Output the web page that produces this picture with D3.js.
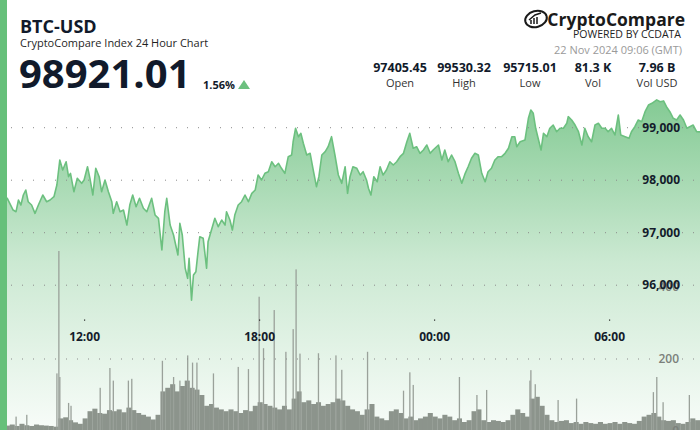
<!DOCTYPE html>
<html>
<head>
<meta charset="utf-8">
<style>
body{margin:0;background:#fff;}
svg{display:block;font-family:"Open Sans",sans-serif;}
.grid line{stroke:#8a8a8a;stroke-dasharray:1,10;}
</style>
</head>
<body>
<svg width="700" height="430"></svg>
<script src="https://cdn.jsdelivr.net/npm/d3@7"></script>
<script>

// price points: [minutes since 21 Nov 09:06 GMT, price]
var pricePoints = [
[0,97405],[15,97655],[27,97432],[33,97400],[38,97623],[43,97527],[48,97718],[53,97813],[58,97590],[65,97527],
[72,97369],[79,97527],[88,97718],[96,97590],[103,97623],[111,97686],[117,97908],[123,98385],[129,98194],[136,98352],
[141,98067],[145,98131],[152,97781],[159,98036],[168,97941],[173,98004],[180,98257],[185,98036],[191,97718],[197,98227],
[204,98067],[209,97781],[216,98004],[223,97781],[230,97590],[233,97369],[240,97590],[247,97400],[254,97432],[261,97146],
[267,97527],[273,97718],[280,97495],[287,97655],[295,97465],[302,97400],[312,97655],[319,97337],[326,97274],[333,96670],
[339,97400],[343,97655],[350,97146],[357,96956],[360,96828],[366,96575],[370,97179],[375,96956],[381,96322],[386,96131],
[389,96512],[394,95715],[398,96194],[403,96257],[407,96607],[411,96924],[418,96893],[425,96322],[428,96828],[435,97051],
[442,97274],[449,97114],[456,97242],[463,97146],[466,97400],[473,97242],[478,97051],[483,97337],[490,97527],[497,97590],
[504,97718],[511,97590],[518,97750],[525,97813],[531,98099],[538,98004],[545,98131],[552,98162],[559,98352],[566,98257],
[573,98322],[579,98227],[586,98131],[593,98448],[600,98480],[603,98733],[608,98989],[614,98829],[619,98893],[624,98703],
[631,98480],[638,98512],[645,98162],[651,97876],[656,98067],[662,98480],[669,98543],[675,98638],[682,98829],[689,98480],
[696,98099],[703,97941],[710,98257],[715,97750],[720,98067],[726,98257],[734,98227],[741,98099],[747,98162],[754,98004],
[758,97846],[763,97718],[769,98067],[776,97971],[782,98257],[788,98099],[795,98194],[802,98352],[809,98289],[816,98352],
[823,98448],[830,98512],[837,98733],[843,98893],[850,98608],[857,98638],[864,98512],[871,98575],[878,98670],[885,98512],
[891,98575],[902,98670],[909,98385],[915,98575],[922,98352],[929,98480],[936,98352],[943,98131],[950,97941],[957,98131],
[963,98257],[970,98417],[977,98512],[984,98480],[991,98131],[998,97971],[1004,98162],[1011,98227],[1018,98385],[1025,98448],
[1032,98448],[1039,98512],[1046,98608],[1053,98829],[1059,98829],[1063,98638],[1070,98733],[1080,98766],[1087,99179],[1092,99337],
[1097,99274],[1102,98989],[1107,98798],[1113,98575],[1118,98893],[1125,98829],[1131,98989],[1138,99051],[1145,98924],[1152,98989],
[1159,98989],[1166,99084],[1169,99210],[1176,99147],[1183,99051],[1190,98924],[1197,98670],[1203,98989],[1210,98829],[1217,98733],
[1224,99051],[1231,99084],[1238,98989],[1245,98989],[1251,98924],[1258,98989],[1265,98861],[1272,99242],[1277,98861],[1286,98829],
[1294,98798],[1299,98924],[1306,99019],[1313,99147],[1320,99114],[1327,99305],[1334,99432],[1341,99465],[1351,99530],[1358,99495],
[1365,99510],[1371,99400],[1378,99305],[1385,99179],[1392,99147],[1399,99242],[1406,99147],[1413,98989],[1419,99019],[1426,99051],
[1433,98924],[1440,98921]
];

// typical volume per 10 minute slot (BTC)
var volBase = [
15,15,18,14,20,16,14,18,16,15,14,12,35,38,30,24,20,35,55,62,
50,48,58,55,60,52,65,58,50,45,40,32,45,110,120,130,110,125,140,120,
115,100,70,75,65,60,55,60,55,50,58,55,70,80,75,70,65,60,70,60,
90,110,80,85,75,80,70,75,80,90,85,70,60,55,45,60,75,40,35,30,
55,60,50,35,40,30,35,40,50,40,35,45,40,30,35,25,30,55,60,30,
25,30,28,25,30,45,60,50,40,90,95,70,45,30,25,28,30,22,25,20,
25,22,20,25,20,22,25,20,25,22,20,28,40,45,50,40,30,28,30,22,
20,25,35,30
];

// single minute spikes: [minute, volume]
var volSpikes = [
[33,40],[55,45],[117,160],[121,500],[123,150],[141,78],[146,70],[206,120],[226,175],[233,140],
[264,140],[271,145],[334,195],[357,150],[370,140],[386,210],[396,190],[405,190],[439,160],[490,178],
[511,172],[533,373],[542,230],[564,336],[588,220],[603,283],[609,449],[617,215],[655,216],[691,210],
[703,170],[756,220],[830,112],[843,163],[850,128],[945,150],[981,100],[1001,114],[1090,140],[1092,169],
[1101,130],[1148,86],[1186,90],[1344,108],[1351,150],[1364,80],[1418,100]
];

var priceTicks = [96000, 97000, 98000, 99000];
var volTicks = [0, 200, 400];
var statValues = ["97405.45", "99530.32", "95715.01", "81.3 K", "7.96 B"];
var statLabels = ["Open", "High", "Low", "Vol", "Vol USD"];

var start = Date.UTC(2024, 10, 21, 9, 6);
function toDate(m){ return new Date(start + m * 60000); }

var svg = d3.select("svg");
var W = 700, H = 430;

var x = d3.scaleUtc().domain([toDate(0), toDate(1440)]).range([0, W]);
var y = d3.scaleLinear().domain([96000, 99000]).range([285.2, 127.7]);
var yv = d3.scaleLinear().domain([0, 400]).range([431, 287]);

var defs = svg.append("defs");
var grad = defs.append("linearGradient").attr("id", "fillGrad")
  .attr("gradientUnits", "userSpaceOnUse")
  .attr("x1", 0).attr("y1", 95).attr("x2", 0).attr("y2", 430);
grad.append("stop").attr("offset", 0).attr("stop-color", "#6cc07f").attr("stop-opacity", 0.85);
grad.append("stop").attr("offset", 0.5).attr("stop-color", "#6cc07f").attr("stop-opacity", 0.35);
grad.append("stop").attr("offset", 1).attr("stop-color", "#6cc07f").attr("stop-opacity", 0.05);

// area under price
var area = d3.area()
  .x(function(d){ return x(toDate(d[0])); })
  .y0(H)
  .y1(function(d){ return y(d[1]); });
svg.append("path").datum(pricePoints).attr("d", area).attr("fill", "url(#fillGrad)");

// volume
var vg = svg.append("g");
vg.selectAll("rect.base").data(volBase).enter().append("rect")
  .attr("class", "base")
  .attr("x", function(d, i){ return x(toDate(i * 10)); })
  .attr("width", function(d, i){ return x(toDate(i * 10 + 10)) - x(toDate(i * 10)) + 0.2; })
  .attr("y", function(d){ return yv(d); })
  .attr("height", function(d){ return yv(0) - yv(d); })
  .attr("fill", "#8c948c");
vg.selectAll("rect.spike").data(volSpikes).enter().append("rect")
  .attr("class", "spike")
  .attr("x", function(d){ return x(toDate(d[0])) - 0.6; })
  .attr("width", 1.3)
  .attr("y", function(d){ return yv(d[1]); })
  .attr("height", function(d){ return yv(0) - yv(d[1]); })
  .attr("fill", "#9aa19a");

// grid lines, broken where the labels sit
var grid = svg.append("g").attr("class", "grid");
var gridYs = priceTicks.map(function(t){ return [y(t), 644]; });
gridYs.push([yv(200), 654]);
gridYs.forEach(function(g){
  grid.append("line").attr("x1", 0).attr("x2", g[1]).attr("y1", g[0]).attr("y2", g[0]);
  grid.append("line").attr("x1", 682).attr("x2", 700).attr("y1", g[0]).attr("y2", g[0]);
});

// price line
var line = d3.line()
  .x(function(d){ return x(toDate(d[0])); })
  .y(function(d){ return y(d[1]); });
svg.append("path").datum(pricePoints).attr("d", line)
  .attr("fill", "none").attr("stroke", "#6cc07f").attr("stroke-width", 1.6)
  .attr("stroke-linejoin", "round");

// volume axis labels
svg.append("g").selectAll("text").data(volTicks).enter().append("text")
  .attr("x", 679).attr("y", function(d){ return yv(d) + 4; })
  .attr("text-anchor", "end").attr("font-size", 12).attr("font-weight", 600)
  .attr("fill", "#7b807b").text(function(d){ return d; });

// price axis labels
svg.append("g").selectAll("text").data(priceTicks).enter().append("text")
  .attr("x", 680).attr("y", function(d){ return y(d) + 4; })
  .attr("text-anchor", "end").attr("font-size", 12).attr("font-weight", 700)
  .attr("fill", "#141c2b").text(function(d){ return d3.format(",")(d); });

// time axis
var tTicks = x.ticks(d3.utcHour.every(6));
var tg = svg.append("g");
tg.selectAll("rect").data(tTicks).enter().append("rect")
  .attr("x", function(d){ return x(d) - 0.6; }).attr("y", 319.5)
  .attr("width", 1.2).attr("height", 1.2).attr("fill", "#222");
tg.selectAll("text").data(tTicks).enter().append("text")
  .attr("x", function(d){ return x(d); }).attr("y", 341)
  .attr("text-anchor", "middle").attr("font-size", 12).attr("font-weight", 700)
  .attr("fill", "#141c2b").text(d3.utcFormat("%H:%M"));

// left accent bar
svg.append("rect").attr("x", 0).attr("y", 0).attr("width", 7).attr("height", H).attr("fill", "#66c07a");

// header left
svg.append("text").attr("x", 20).attr("y", 33).attr("font-size", 18).attr("font-weight", 700)
  .attr("fill", "#111a2b").text("BTC-USD");
svg.append("text").attr("x", 20).attr("y", 47).attr("font-size", 11)
  .attr("fill", "#1f1f1f").text("CryptoCompare Index 24 Hour Chart");
svg.append("text").attr("x", 19).attr("y", 88).attr("font-size", 40).attr("font-weight", 700)
  .attr("fill", "#111a2b").text("98921.01");
svg.append("text").attr("x", 203).attr("y", 89).attr("font-size", 11).attr("font-weight", 700)
  .attr("fill", "#111a2b").text("1.56%");
svg.append("path").attr("d", "M238,89L250,89L244,80Z").attr("fill", "#6cc07f");

// header right: logo
var logo = svg.append("g");
logo.append("ellipse").attr("cx", 536).attr("cy", 19).attr("rx", 11).attr("ry", 8)
  .attr("transform", "rotate(-15,536,19)")
  .attr("fill", "none").attr("stroke", "#1a1a1a").attr("stroke-width", 2);
logo.append("path").attr("d", "M531,24L531,20M534,24L534,18M537,24L537,17M529,20L535,15L541,13")
  .attr("fill", "none").attr("stroke", "#1a1a1a").attr("stroke-width", 1.5);
svg.append("text").attr("x", 685).attr("y", 26).attr("text-anchor", "end")
  .attr("font-size", 17.5).attr("font-weight", 700).attr("fill", "#1a1a1a").text("CryptoCompare");
svg.append("text").attr("x", 681).attr("y", 38).attr("text-anchor", "end")
  .attr("font-size", 10.5).attr("fill", "#222").text("POWERED BY CCDATA");
svg.append("text").attr("x", 682).attr("y", 54).attr("text-anchor", "end")
  .attr("font-size", 11).attr("fill", "#9a9a9a").text("22 Nov 2024 09:06 (GMT)");

// stats
var statX = [400, 464, 530, 593, 657];
var sg = svg.append("g").attr("text-anchor", "middle");
sg.selectAll("text.v").data(statValues).enter().append("text").attr("class", "v")
  .attr("x", function(d, i){ return statX[i]; }).attr("y", 72)
  .attr("font-size", 12.5).attr("font-weight", 700).attr("fill", "#111a2b").text(function(d){ return d; });
sg.selectAll("text.l").data(statLabels).enter().append("text").attr("class", "l")
  .attr("x", function(d, i){ return statX[i]; }).attr("y", 87)
  .attr("font-size", 11).attr("fill", "#333").text(function(d){ return d; });

</script>
</body>
</html>
